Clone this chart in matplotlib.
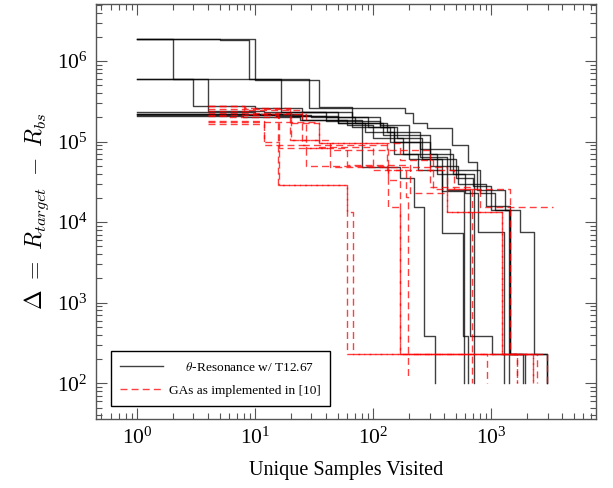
import numpy as np
import matplotlib
matplotlib.use("Agg")
import matplotlib.pyplot as plt

plt.rcParams['font.family'] = ['Liberation Serif', 'DejaVu Serif']
plt.rcParams['mathtext.fontset'] = 'cm'

# theta-Resonance runs: (samples visited, best delta so far)
res_x = [
    [1, 2, 16.7, 66, 80, 168, 223, 268, 333],
    [1, 5, 8.9, 28.5, 185, 216, 283, 465, 635, 760, 1310, 1740, 2300, 2950],
    [1, 5, 9.9, 34.6, 65.6, 114, 200, 300, 478, 720],
    [1, 3, 10, 25, 50, 120, 200, 380, 580, 640],
    [1, 4, 12, 40, 90, 150, 250, 420, 665, 1008, 2950],
    [1, 8, 30, 70, 130, 250, 450, 800, 1070, 1420],
    [1, 10, 25, 60, 100, 180, 350, 600, 775, 1280],
    [1, 15, 40, 114, 160, 260, 500, 700, 1000, 1450, 1940],
    [1, 20, 50, 85, 150, 240, 380, 590],
    [1, 7.9, 24, 66, 140, 300, 520, 900, 1450, 1850],
]
res_y = [
    [1.9e6, 6.0e5, 2.3e5, 1.85e5, 4.9e4, 3.5e4, 1.55e4, 390, 100],
    [1.9e6, 1.83e6, 5.9e5, 2.6e5, 2.24e5, 1.7e5, 1.47e5, 9.1e4, 5.6e4, 2.5e4, 1.43e4, 7.6e3, 233, 100],
    [1.9e6, 1.85e6, 5.8e5, 2.7e5, 2.0e5, 1.6e5, 1.2e5, 7e4, 4e4, 100],
    [6.0e5, 2.8e5, 2.6e5, 2.3e5, 1.7e5, 1.2e5, 6e4, 7.4e3, 390, 100],
    [6.0e5, 2.4e5, 2.3e5, 2.0e5, 1.5e5, 1.0e5, 6.5e4, 2.5e4, 390, 233, 100],
    [2.2e5, 2.15e5, 2.0e5, 1.7e5, 1.3e5, 8e4, 4.5e4, 2.3e4, 1.43e4, 100],
    [2.3e5, 2.2e5, 1.85e5, 1.6e5, 1.1e5, 7e4, 4e4, 2.3e4, 7.6e3, 100],
    [2.15e5, 2.1e5, 1.8e5, 1.5e5, 1.1e5, 6e4, 3.5e4, 2.8e4, 1.4e4, 233, 100],
    [2.2e5, 2.05e5, 1.7e5, 1.3e5, 7e4, 4.5e4, 2.4e4, 100],
    [2.1e5, 2.0e5, 1.85e5, 1.5e5, 1.0e5, 5e4, 3e4, 1.6e4, 233, 100],
]

# GA runs
ga_x = [
    [4, 8.2, 20, 35, 170, 320, 800, 3350],
    [4, 15.7, 59.5, 2950],
    [4, 12, 16, 59.5, 67, 2250],
    [4, 11.9, 27, 134, 168, 1650],
    [4, 20, 35, 100, 191, 197],
    [4, 9, 27, 60, 205, 418, 1220, 2450],
    [4, 19.7, 43, 300, 680],
    [4, 35, 130, 480, 1440, 1650],
    [4, 8, 25, 134, 168, 920],
    [4, 6, 16, 43, 418, 1220, 2250],
]
ga_y = [
    [2.8e5, 2.6e5, 1.7e5, 9.5e4, 5.9e4, 2.6e4, 1.55e4, 1.55e4],
    [2.14e5, 2.9e4, 233, 100],
    [1.82e5, 1.0e5, 2.9e4, 1.35e4, 233, 100],
    [1.64e5, 9.1e4, 5e4, 1.55e4, 233, 100],
    [2.25e5, 1.05e5, 8.5e4, 4.5e4, 2.07e4, 115],
    [2.4e5, 2.2e5, 8.3e4, 5.1e4, 2.3e4, 1.35e4, 233, 100],
    [2.53e5, 1.05e5, 7.9e4, 2.75e4, 100],
    [1.73e5, 9.5e4, 4.5e4, 2.6e4, 233, 100],
    [2.8e5, 2.5e5, 9.1e4, 3.3e4, 233, 100],
    [2.1e5, 2.0e5, 8.3e4, 4.9e4, 1.35e4, 233, 100],
]

fig = plt.figure(figsize=(6.13, 4.88), dpi=100)
ax = fig.add_axes([0.1566, 0.1414, 0.8157, 0.8504])

for i, (xs, ys) in enumerate(zip(res_x, res_y)):
    ax.step(xs, ys, where='post', color='black', lw=1.0, alpha=0.75,
            label=r'     $\theta$-Resonance w/ T12.67' if i == 0 else None)
for i, (xs, ys) in enumerate(zip(ga_x, ga_y)):
    ax.step(xs, ys, where='post', color='red', lw=1.0, alpha=0.75,
            dashes=(5, 3), label='GAs as implemented in [10]' if i == 0 else None)

ax.set_xscale('log')
ax.set_yscale('log')
ax.set_xlim(0.45, 7700)
ax.set_ylim(36, 5.1e6)

ax.tick_params(which='both', direction='in', top=True, right=True,
               color='#555555', labelsize=15.5)
ax.tick_params(which='major', length=8, width=0.8, pad=6)
ax.tick_params(which='minor', length=4.5, width=0.8)
for s in ax.spines.values():
    s.set_color('#555555')
    s.set_linewidth(1.0)

ax.set_xlabel('Unique Samples Visited', fontsize=14.5, labelpad=9)
ax.set_ylabel(r'$\Delta\ =\ R_{target}\ -\ R_{bs}$', fontsize=17, labelpad=4)

leg = ax.legend(loc='lower left', fontsize=9.6, fancybox=False, framealpha=1,
                edgecolor='black', handlelength=3.2, handletextpad=0.45,
                borderpad=0.7, labelspacing=0.8, borderaxespad=0,
                bbox_to_anchor=(0.03, 0.031))
leg.get_frame().set_linewidth(1.0)

fig.savefig('out.png', dpi=100)
